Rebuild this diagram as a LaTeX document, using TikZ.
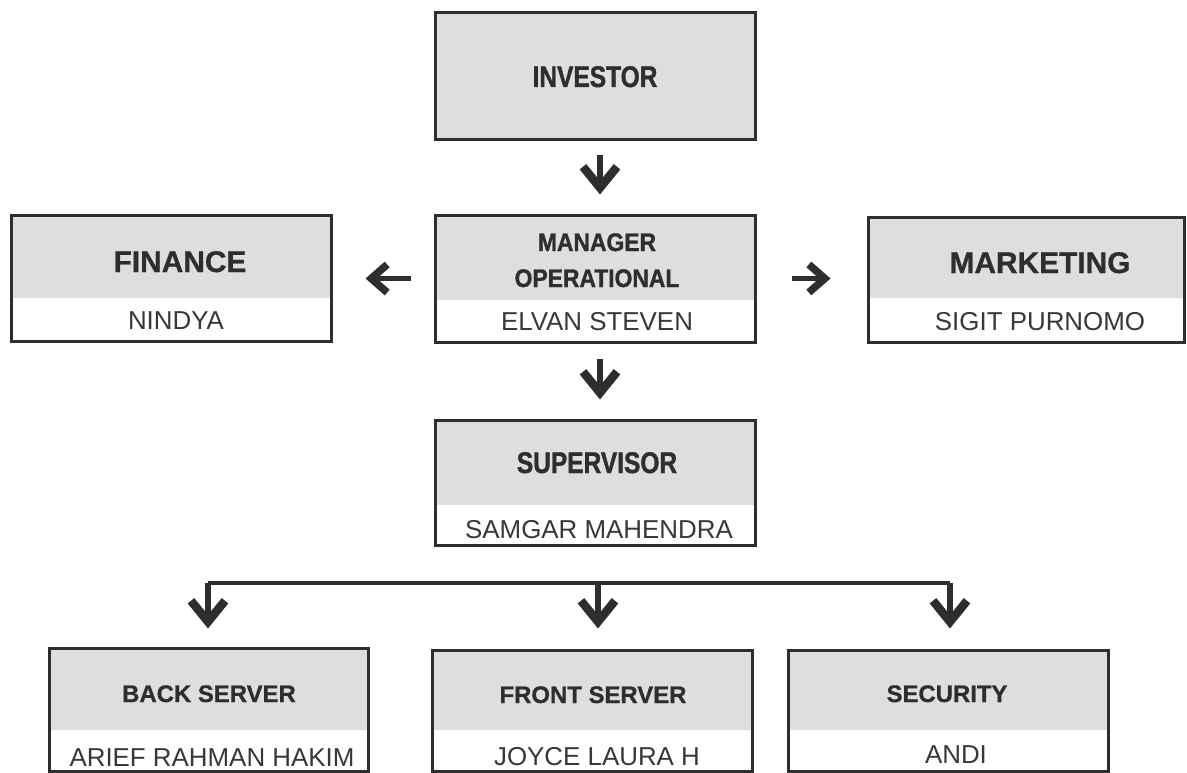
\documentclass[tikz,border=0pt]{standalone}
\usepackage{fontspec}
\setmainfont{Liberation Sans}
\newfontfamily\condsans{Liberation Sans Bold}[FakeStretch=0.82, FakeBold=1.2]
\newfontfamily\midsans{Liberation Sans Bold}[FakeStretch=0.9, FakeBold=1.2]
\newfontfamily\heavysans{Liberation Sans Bold}[FakeBold=0.8]
\usetikzlibrary{arrows.meta}

\definecolor{ink}{HTML}{2E2E2E}
\definecolor{namecol}{HTML}{383838}
\definecolor{hdrgray}{HTML}{DEDEDE}

\tikzset{
  box/.style={draw=ink, line width=3bp, rectangle, inner sep=0pt},
  hdr/.style={path picture={\fill[hdrgray] (path picture bounding box.north west)
      rectangle ([yshift=-#1]path picture bounding box.north east);}},
  titlecond/.style={anchor=base, inner sep=0pt, text=ink,
      font=\condsans\fontsize{30}{32}\selectfont},
  titlemid/.style={anchor=base, inner sep=0pt, text=ink,
      font=\midsans\fontsize{25.5}{28}\selectfont},
  titlebig/.style={anchor=base, inner sep=0pt, text=ink,
      font=\heavysans\fontsize{30}{32}\selectfont},
  titlesmall/.style={anchor=base, inner sep=0pt, text=ink,
      font=\heavysans\fontsize{24}{26}\selectfont},
  person/.style={anchor=base, inner sep=0pt, text=namecol,
      font=\fontsize{26}{28}\selectfont},
  varr/.style={draw=ink, line width=6bp,
      -{Straight Barb[length=21bp, width=34bp, line width=8.5bp]}},
  harr/.style={draw=ink, line width=5.5bp,
      -{Straight Barb[length=16bp, width=28bp, line width=7.5bp]}},
  busline/.style={draw=ink, line width=3.5bp},
}

\begin{document}
\begin{tikzpicture}[x=1bp, y=-1bp]
  \useasboundingbox[fill=white] (0,0) rectangle (1187,773);

  % boxes
  \node[box, hdr=126bp, minimum width=320bp, minimum height=126bp] (inv) at (595,76) {};
  \node[box, hdr=85bp,  minimum width=320bp, minimum height=127bp] (mgr) at (595,278.5) {};
  \node[box, hdr=83bp,  minimum width=319bp, minimum height=126bp] (fin) at (171.5,278) {};
  \node[box, hdr=81bp,  minimum width=316bp, minimum height=125bp] (mkt) at (1026,279.5) {};
  \node[box, hdr=85bp,  minimum width=320bp, minimum height=125bp] (sup) at (595,482.5) {};
  \node[box, hdr=82bp,  minimum width=318bp, minimum height=123bp] (back) at (209,709.5) {};
  \node[box, hdr=80bp,  minimum width=320bp, minimum height=121bp] (front) at (592,710.5) {};
  \node[box, hdr=80bp,  minimum width=320bp, minimum height=121bp] (sec) at (948,710.5) {};

  % titles and names
  \node[titlecond] (invT) at (595,87) {INVESTOR};
  \node[titlemid] (mgrT1) at (597,251) {MANAGER};
  \node[titlemid] (mgrT2) at (597,287) {OPERATIONAL};
  \node[person] (mgrN) at (597,330) {ELVAN STEVEN};
  \node[titlebig] (finT) at (180,272) {FINANCE};
  \node[person] (finN) at (176,329) {NINDYA};
  \node[titlebig] (mktT) at (1040,273) {MARKETING};
  \node[person] (mktN) at (1040,330) {SIGIT PURNOMO};
  \node[titlecond] (supT) at (597,473) {SUPERVISOR};
  \node[person] (supN) at (599,538) {SAMGAR MAHENDRA};
  \node[titlesmall] (backT) at (209,702) {BACK SERVER};
  \node[person] (backN) at (212,766) {ARIEF RAHMAN HAKIM};
  \node[titlesmall] (frontT) at (593,703) {FRONT SERVER};
  \node[person] (frontN) at (597,765) {JOYCE LAURA H};
  \node[titlesmall] (secT) at (947,702) {SECURITY};
  \node[person] (secN) at (956,763) {ANDI};

  % reporting arrows
  \draw[varr, shorten <=14bp, shorten >=19bp] ([xshift=5bp]inv.south) -- ([xshift=5bp]mgr.north);
  \draw[harr, shorten <=23bp, shorten >=33bp] (mgr.west) -- (mgr.west -| fin.east);
  \draw[harr, shorten <=35bp, shorten >=36bp] (mgr.east) -- (mgr.east -| mkt.west);
  \draw[varr, shorten <=15bp, shorten >=19bp] ([xshift=5bp]mgr.south) -- ([xshift=5bp]sup.north);

  % distribution bus to the three teams
  \coordinate (busB) at (208,583);
  \coordinate (busF) at (598,583);
  \coordinate (busS) at (950,583);
  \draw[busline] (busB) -- (busS);
  \draw[varr, shorten >=18bp] (busB) -- (busB |- back.north);
  \draw[varr, shorten >=20bp] (busF) -- (busF |- front.north);
  \draw[varr, shorten >=20bp] (busS) -- (busS |- sec.north);
\end{tikzpicture}
\end{document}
